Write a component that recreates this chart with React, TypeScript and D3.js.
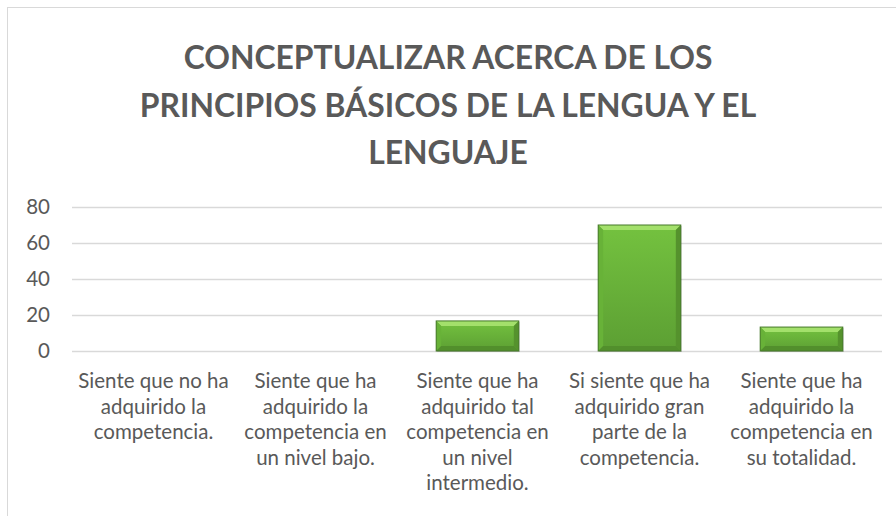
import React, { useEffect, useRef } from 'react'
import * as d3 from 'd3'

const titleLines = ['CONCEPTUALIZAR ACERCA DE LOS', 'PRINCIPIOS BÁSICOS DE LA LENGUA Y EL', 'LENGUAJE']
const categories = [
  ['Siente que no ha', 'adquirido la', 'competencia.'],
  ['Siente que ha', 'adquirido la', 'competencia en', 'un nivel bajo.'],
  ['Siente que ha', 'adquirido tal', 'competencia en', 'un nivel', 'intermedio.'],
  ['Si siente que ha', 'adquirido gran', 'parte de la', 'competencia.'],
  ['Siente que ha', 'adquirido la', 'competencia en', 'su totalidad.'],
]
const values = [0, 0, 16.7, 70, 13.3]
const yTicks = [0, 20, 40, 60, 80]

function App() {
  const svgRef = useRef<SVGSVGElement>(null)

  useEffect(() => {
    const w = 896
    const h = 516
    const svg = d3.select(svgRef.current)
    svg.selectAll('*').remove()
    svg.attr('width', w).attr('height', h)

    const font = 'Lato, "Open Sans", sans-serif'
    const grey = '#595959'

    // gradient for the bars
    const defs = svg.append('defs')
    const grad = defs.append('linearGradient')
      .attr('id', 'barGrad').attr('x1', 0).attr('x2', 0).attr('y1', 0).attr('y2', 1)
    grad.append('stop').attr('offset', '0%').attr('stop-color', '#74c23f')
    grad.append('stop').attr('offset', '100%').attr('stop-color', '#5c9f33')

    // chart frame
    svg.append('rect')
      .attr('x', 7.5).attr('y', 7.5)
      .attr('width', w + 10).attr('height', h + 10)
      .attr('fill', '#fff').attr('stroke', '#d9d9d9')

    // title
    const title = svg.append('g')
    titleLines.forEach((t, i) => {
      title.append('text')
        .attr('x', 448).attr('y', 69 + i * 47.5)
        .attr('text-anchor', 'middle')
        .attr('font-family', font).attr('font-weight', 700)
        .attr('font-size', 32).attr('fill', grey)
        .text(t)
    })
    // fit title size to the reference line width
    const first = title.select<SVGTextElement>('text').node()
    if (first) {
      const len = first.getComputedTextLength()
      title.selectAll('text').attr('font-size', 32 * 529 / len)
    }

    const x = d3.scaleBand<number>()
      .domain(values.map((_, i) => i))
      .range([72.5, 882.5])
      .paddingInner(0.49)
      .paddingOuter(0.245)
    const y = d3.scaleLinear().domain([0, 80]).range([351, 207])

    // gridlines
    svg.append('g')
      .selectAll('line')
      .data(yTicks)
      .join('line')
      .attr('x1', 72).attr('x2', 882)
      .attr('y1', d => Math.round(y(d)) + 0.5).attr('y2', d => Math.round(y(d)) + 0.5)
      .attr('stroke', '#d9d9d9').attr('stroke-width', 1.5)

    // y tick labels
    svg.append('g')
      .selectAll('text')
      .data(yTicks)
      .join('text')
      .attr('x', 50).attr('y', d => y(d) + 7)
      .attr('text-anchor', 'end')
      .attr('font-family', font).attr('font-size', 20.5).attr('fill', grey)
      .text(d => d)

    // bars with bevel
    const bw = x.bandwidth()
    const bars = svg.append('g')
    values.forEach((v, i) => {
      if (v <= 0) return
      const x0 = x(i) as number
      const y0 = y(v)
      const y1 = y(0)
      const bh = y1 - y0
      const b = Math.min(5, bh / 2)
      const g = bars.append('g')
      g.append('rect')
        .attr('x', x0 + 1).attr('y', y0 + 1).attr('width', bw).attr('height', bh)
        .attr('fill', 'rgba(0,0,0,0.15)')
      g.append('rect')
        .attr('x', x0).attr('y', y0).attr('width', bw).attr('height', bh)
        .attr('fill', 'url(#barGrad)')
      // top bevel
      g.append('polygon')
        .attr('points', `${x0},${y0} ${x0 + bw},${y0} ${x0 + bw - b},${y0 + b} ${x0 + b},${y0 + b}`)
        .attr('fill', '#a3e06b')
      // left bevel
      g.append('polygon')
        .attr('points', `${x0},${y0} ${x0 + b},${y0 + b} ${x0 + b},${y1 - b} ${x0},${y1}`)
        .attr('fill', '#68b238')
      // right bevel
      g.append('polygon')
        .attr('points', `${x0 + bw},${y0} ${x0 + bw - b},${y0 + b} ${x0 + bw - b},${y1 - b} ${x0 + bw},${y1}`)
        .attr('fill', '#55922d')
      // bottom bevel
      g.append('polygon')
        .attr('points', `${x0},${y1} ${x0 + b},${y1 - b} ${x0 + bw - b},${y1 - b} ${x0 + bw},${y1}`)
        .attr('fill', '#528f2c')
      g.append('rect')
        .attr('x', x0).attr('y', y0).attr('width', bw).attr('height', bh)
        .attr('fill', 'none').attr('stroke', '#46792a').attr('stroke-width', 1)
    })

    // category labels
    const cats = svg.append('g')
    categories.forEach((lines, i) => {
      const cx = (x(i) as number) + bw / 2
      const t = cats.append('text')
        .attr('text-anchor', 'middle')
        .attr('font-family', font).attr('font-size', 20.5).attr('fill', grey)
      lines.forEach((l, j) => {
        t.append('tspan').attr('x', cx).attr('y', 388 + j * 25.6).text(l)
      })
    })
  }, [])

  return (
    <svg ref={svgRef} style={{ position: 'absolute', left: 0, top: 0 }}></svg>
  )
}

export default App
